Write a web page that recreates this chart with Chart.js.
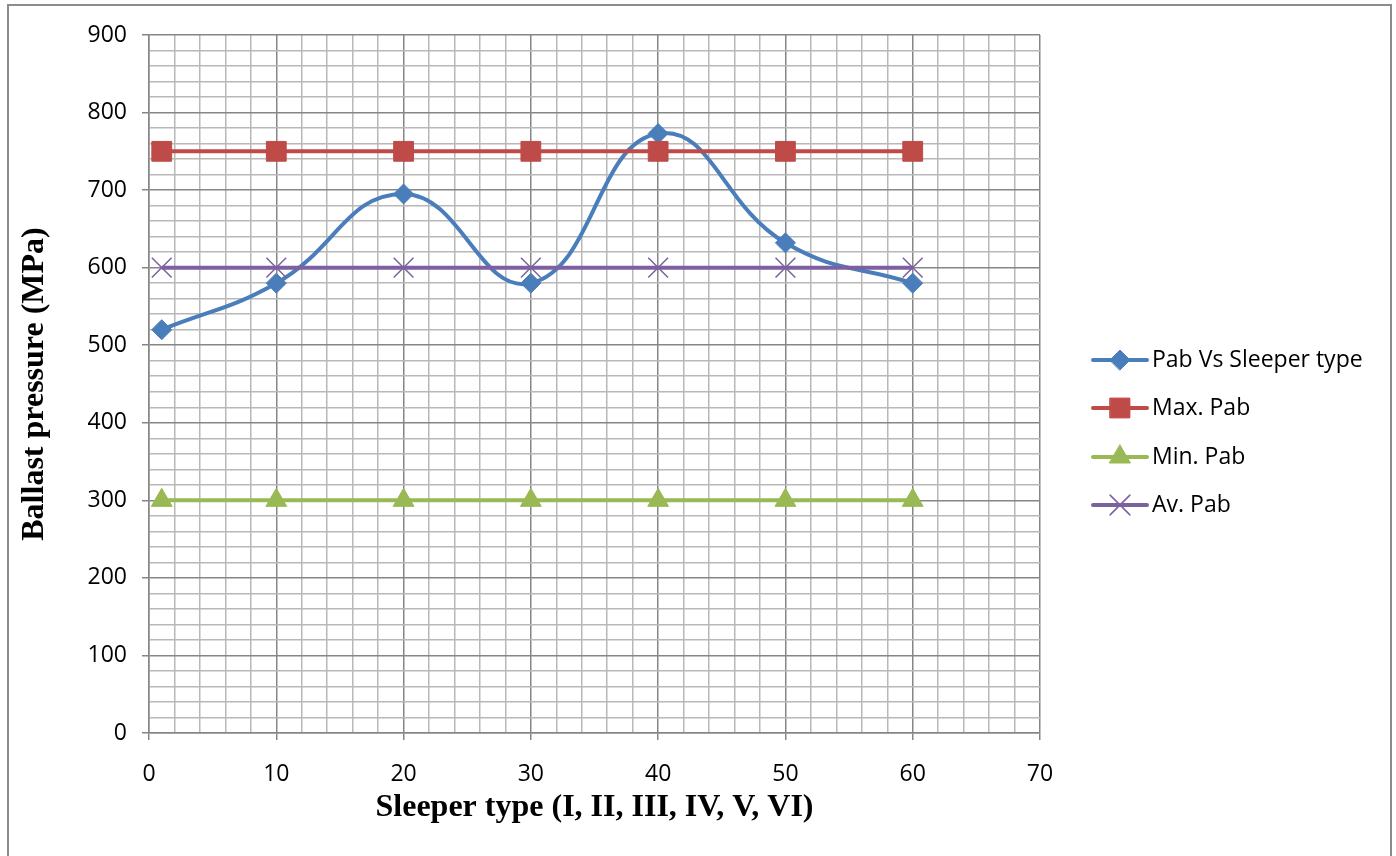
<!DOCTYPE html>
<html>
<head>
<meta charset="utf-8">
<script src="https://cdn.jsdelivr.net/npm/chart.js@4.4.0/dist/chart.umd.min.js"></script>
<style>
  body { margin: 0; background: #fff; }
  canvas { display: block; }
</style>
</head>
<body>
<canvas id="pab-chart" width="1396" height="856"></canvas>
<script>
// chart values
const sleeperX = [1, 10, 20, 30, 40, 50, 60];
const pabValues = [520, 580, 695, 580, 773, 632, 580];
const maxPabValues = [750, 750, 750, 750, 750, 750, 750];
const minPabValues = [300, 300, 300, 300, 300, 300, 300];
const avPabValues = [600, 600, 600, 600, 600, 600, 600];
const seriesNames = ['Pab Vs Sleeper type', 'Max. Pab', 'Min. Pab', 'Av. Pab'];

// axis ranges and grid steps
const xMin = 0, xMax = 70, xMinorStep = 2, xMajorStep = 10;
const yMin = 0, yMax = 900, yMinorStep = 20, yMajorStep = 100;

const tickFont = { family: "'Open Sans', sans-serif", size: 23 };
const titleFont = { family: "'Liberation Serif', 'Times New Roman', serif", size: 32, weight: 'bold' };

function toPoints(values) {
  return sleeperX.map((x, i) => ({ x: x, y: values[i] }));
}

function stepValues(min, max, step) {
  const out = [];
  for (let v = min; v <= max + 1e-9; v += step) out.push(v);
  return out;
}

function lineSeries(label, values, color, style, radius, order) {
  return {
    label: label,
    data: toPoints(values),
    borderColor: color,
    backgroundColor: color,
    pointBackgroundColor: color,
    pointBorderColor: color,
    pointStyle: style,
    pointRadius: radius,
    pointHoverRadius: radius,
    pointBorderWidth: style === 'crossRot' ? 1.5 : 1,
    borderWidth: 4,
    tension: 0,
    order: order,
  };
}

const datasets = [
  lineSeries(seriesNames[0], pabValues, '#4A7EBB', 'rectRot', 10, 4),
  lineSeries(seriesNames[1], maxPabValues, '#BE4B48', 'rect', 14, 3),
  lineSeries(seriesNames[2], minPabValues, '#98B954', 'triangle', 12, 2),
  lineSeries(seriesNames[3], avPabValues, '#7D60A0', 'crossRot', 14, 1),
];
datasets[0].tension = 0.45;

// outer frame + legend with line and marker
const framePlugin = {
  id: 'frameAndLegend',
  beforeDraw(chart) {
    const ctx = chart.ctx;
    ctx.save();
    ctx.fillStyle = '#fff';
    ctx.fillRect(0, 0, chart.width, chart.height);
    ctx.strokeStyle = '#8c8c8c';
    ctx.lineWidth = 2;
    ctx.strokeRect(8, 5, 1383, 900);
    ctx.restore();
  },
  afterDraw(chart) {
    const ctx = chart.ctx;
    const rowsY = [360, 408, 457, 505];
    ctx.save();
    chart.data.datasets.forEach((ds, i) => {
      const y = rowsY[i];
      ctx.strokeStyle = ds.borderColor;
      ctx.lineWidth = 4;
      ctx.lineCap = 'round';
      ctx.beginPath();
      ctx.moveTo(1093, y);
      ctx.lineTo(1147, y);
      ctx.stroke();
      ctx.fillStyle = ds.pointBackgroundColor;
      ctx.strokeStyle = ds.pointBorderColor;
      ctx.lineWidth = ds.pointBorderWidth;
      Chart.helpers.drawPoint(ctx, {
        pointStyle: ds.pointStyle,
        radius: ds.pointRadius,
        borderWidth: ds.pointBorderWidth,
        rotation: 0,
      }, 1120, y);
      ctx.fillStyle = '#000';
      ctx.font = tickFont.size + 'px ' + tickFont.family;
      ctx.textBaseline = 'middle';
      ctx.textAlign = 'left';
      ctx.fillText(ds.label, 1152, y);
    });
    ctx.restore();
  },
};

const ctx = document.getElementById('pab-chart').getContext('2d');

new Chart(ctx, {
  type: 'line',
  data: { datasets: datasets },
  options: {
    responsive: false,
    animation: false,
    layout: { padding: { left: 0, right: 356, top: 35, bottom: 0 } },
    plugins: {
      legend: { display: false },
      tooltip: { enabled: false },
    },
    scales: {
      x: {
        type: 'linear',
        min: xMin,
        max: xMax,
        afterBuildTicks(scale) {
          scale.ticks = stepValues(xMin, xMax, xMinorStep).map((v) => ({ value: v }));
        },
        afterFit(scale) {
          scale.height = 123;
          scale.paddingLeft = 0;
          scale.paddingRight = 0;
        },
        ticks: {
          autoSkip: false,
          maxRotation: 0,
          padding: 21,
          color: '#000',
          font: tickFont,
          callback: (v) => (v % xMajorStep === 0 ? v : ''),
        },
        grid: {
          lineWidth: 1.5,
          tickLength: 7,
          color: (c) => (c.tick && c.tick.value % xMajorStep === 0 ? '#868686' : '#b8b8b8'),
          tickColor: (c) => (c.tick && c.tick.value % xMajorStep === 0 ? '#868686' : 'rgba(0,0,0,0)'),
        },
        border: { color: '#868686', width: 1.5 },
        title: {
          display: true,
          text: 'Sleeper type (I, II, III, IV, V, VI)',
          color: '#000',
          font: titleFont,
          padding: { top: 0, bottom: 29 },
        },
      },
      y: {
        type: 'linear',
        min: yMin,
        max: yMax,
        afterBuildTicks(scale) {
          scale.ticks = stepValues(yMin, yMax, yMinorStep).map((v) => ({ value: v }));
        },
        afterFit(scale) {
          scale.width = 149;
          scale.paddingTop = 0;
          scale.paddingBottom = 0;
        },
        ticks: {
          autoSkip: false,
          padding: 15,
          color: '#000',
          font: tickFont,
          callback: (v) => (v % yMajorStep === 0 ? v : ''),
        },
        grid: {
          lineWidth: 1.5,
          tickLength: 7,
          color: (c) => (c.tick && c.tick.value % yMajorStep === 0 ? '#868686' : '#b8b8b8'),
          tickColor: (c) => (c.tick && c.tick.value % yMajorStep === 0 ? '#868686' : 'rgba(0,0,0,0)'),
        },
        border: { color: '#868686', width: 1.5 },
        title: {
          display: true,
          text: 'Ballast pressure (MPa)',
          color: '#000',
          font: titleFont,
          padding: { top: 16, bottom: 0 },
        },
      },
    },
  },
  plugins: [framePlugin],
});
</script>
</body>
</html>
